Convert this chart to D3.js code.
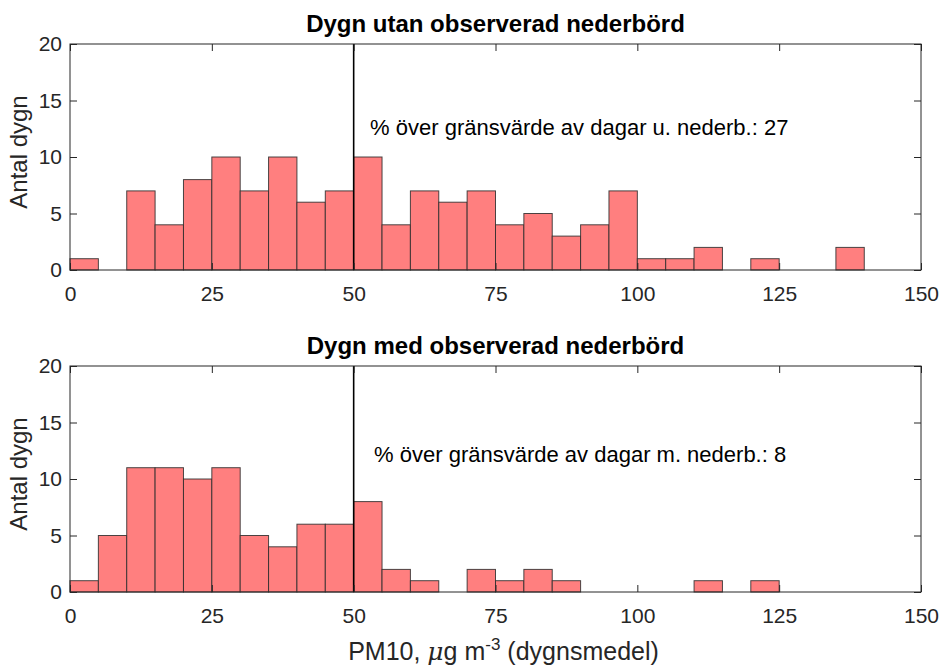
<!DOCTYPE html>
<html>
<head>
<meta charset="utf-8">
<script src="https://cdn.jsdelivr.net/npm/d3@7"></script>
<style>
  body { margin: 0; background: #fff; }
  svg text { font-family: "Liberation Sans", Arial, Helvetica, sans-serif; }
</style>
</head>
<body>
<div id="container"></div>
<script>
// bin edges: 0..150 in steps of 5
var binEdges = [0, 5, 10, 15, 20, 25, 30, 35, 40, 45, 50, 55, 60, 65, 70, 75, 80, 85, 90, 95,
                100, 105, 110, 115, 120, 125, 130, 135, 140, 145, 150];

// counts per bin, days without precipitation
var countsDry = [1, 0, 7, 4, 8, 10, 7, 10, 6, 7, 10, 4, 7, 6, 7, 4, 5, 3, 4, 7,
                 1, 1, 2, 0, 1, 0, 0, 2, 0, 0];

// counts per bin, days with precipitation
var countsWet = [1, 5, 11, 11, 10, 11, 5, 4, 6, 6, 8, 2, 1, 0, 2, 1, 2, 1, 0, 0,
                 0, 0, 1, 0, 1, 0, 0, 0, 0, 0];

var xTicks = [0, 25, 50, 75, 100, 125, 150];
var yTicks = [0, 5, 10, 15, 20];
var limitValue = 50;

var panels = [
  { title: "Dygn utan observerad nederbörd", counts: countsDry,
    note: "% över gränsvärde av dagar u. nederb.: 27", noteX: 52.9, noteY: 12.5, top: 44 },
  { title: "Dygn med observerad nederbörd", counts: countsWet,
    note: "% över gränsvärde av dagar m. nederb.: 8", noteX: 53.6, noteY: 12.0, top: 366 }
];

var svgWidth = 943, svgHeight = 668;
var left = 70, right = 921, plotH = 226;
var axisColor = "#262626";

var svg = d3.select("div#container")
  .append("svg")
  .attr("width", svgWidth)
  .attr("height", svgHeight);

var x = d3.scaleLinear().domain([0, 150]).range([left, right]);

panels.forEach(function (p) {
  var y = d3.scaleLinear().domain([0, 20]).range([p.top + plotH, p.top]);
  var g = svg.append("g");

  // bars (zero bins still get a flat edge on the baseline)
  var bins = p.counts.map(function (c, i) { return { x0: binEdges[i], x1: binEdges[i + 1], n: c }; });
  g.selectAll("rect.bar")
    .data(bins)
    .enter()
    .append("rect")
    .attr("class", "bar")
    .attr("x", d => x(d.x0))
    .attr("y", d => y(d.n))
    .attr("width", d => x(d.x1) - x(d.x0))
    .attr("height", d => y(0) - y(d.n))
    .attr("fill", "#ff7f7f")
    .attr("stroke", "#2b2b2b")
    .attr("stroke-opacity", 0.85)
    .attr("stroke-width", 1);

  // limit line
  g.append("line")
    .attr("x1", x(limitValue)).attr("x2", x(limitValue))
    .attr("y1", y(20)).attr("y2", y(0))
    .attr("stroke", "#000")
    .attr("stroke-width", 1.6);

  // axis box
  g.append("rect")
    .attr("x", x(0)).attr("y", y(20))
    .attr("width", x(150) - x(0)).attr("height", y(0) - y(20))
    .attr("fill", "none")
    .attr("stroke", axisColor)
    .attr("stroke-width", 1);

  // axes with inward ticks
  var ax = g.append("g")
    .attr("transform", "translate(0," + y(0) + ")")
    .call(d3.axisBottom(x).tickValues(xTicks).tickSizeInner(-7).tickSizeOuter(0).tickPadding(16));
  var axTop = g.append("g")
    .attr("transform", "translate(0," + y(20) + ")")
    .call(d3.axisTop(x).tickValues(xTicks).tickSizeInner(-7).tickSizeOuter(0).tickFormat(""));
  var ay = g.append("g")
    .attr("transform", "translate(" + x(0) + ",0)")
    .call(d3.axisLeft(y).tickValues(yTicks).tickSizeInner(-7).tickSizeOuter(0).tickPadding(8));
  var ayR = g.append("g")
    .attr("transform", "translate(" + x(150) + ",0)")
    .call(d3.axisRight(y).tickValues(yTicks).tickSizeInner(-7).tickSizeOuter(0).tickFormat(""));

  [ax, axTop, ay, ayR].forEach(function (a) {
    a.select(".domain").remove();
    a.selectAll("line").attr("stroke", axisColor);
    a.selectAll("text")
      .attr("fill", axisColor)
      .style("font-size", "21px")
      .style("font-family", "'Liberation Sans', Arial, sans-serif");
  });

  // title
  g.append("text")
    .attr("x", (left + right) / 2)
    .attr("y", p.top - 12)
    .attr("text-anchor", "middle")
    .style("font-size", "24px")
    .style("font-weight", "bold")
    .attr("fill", "#000")
    .text(p.title);

  // y label
  g.append("text")
    .attr("transform", "translate(27," + (p.top + plotH / 2 - 5) + ") rotate(-90)")
    .attr("text-anchor", "middle")
    .style("font-size", "24px")
    .attr("fill", axisColor)
    .text("Antal dygn");

  // annotation
  g.append("text")
    .attr("x", x(p.noteX))
    .attr("y", y(p.noteY))
    .attr("dominant-baseline", "middle")
    .style("font-size", "22px")
    .attr("fill", "#000")
    .text(p.note);
});

// x label
var xl = svg.append("text")
  .attr("x", (left + right) / 2 + 8)
  .attr("y", 660)
  .attr("text-anchor", "middle")
  .style("font-size", "25px")
  .attr("fill", axisColor);
xl.append("tspan").text("PM10, ");
xl.append("tspan").style("font-style", "italic").style("font-family", "'DejaVu Serif', serif").text("μ");
xl.append("tspan").text("g m");
xl.append("tspan").attr("dy", -10).style("font-size", "17px").text("-3");
xl.append("tspan").attr("dy", 10).text(" (dygnsmedel)");
</script>
</body>
</html>
